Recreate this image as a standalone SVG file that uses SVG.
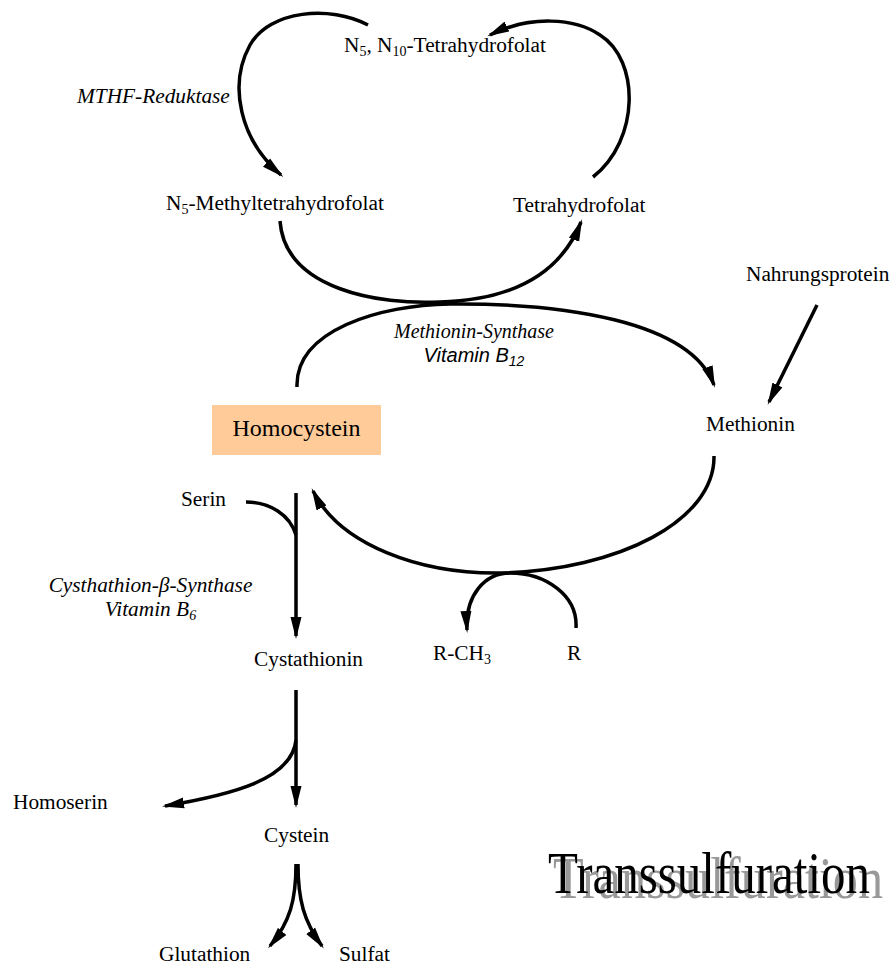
<svg xmlns="http://www.w3.org/2000/svg" width="892" height="965" viewBox="0 0 892 965">
<style>
  .lbl { font-family: "Liberation Serif", "Times New Roman", serif; font-size: 21.33px; fill: #000; }
  .it { font-style: italic; }
  .sans { font-family: "Liberation Sans", Arial, sans-serif; font-style: italic; font-size: 20px; fill: #000; }
  .conn { fill: none; stroke: #000; stroke-width: 3.5; }
  .big { font-family: "Liberation Serif", "Times New Roman", serif; font-size: 60px; }
  .sub { font-size: 14px; }
</style>
<defs>
  <marker id="ah" markerUnits="userSpaceOnUse" markerWidth="23" markerHeight="12" refX="19" refY="6" orient="auto" viewBox="0 0 23 12">
    <path d="M0,0.5 L22,6 L0,11.5 Z" fill="#000"/>
  </marker>
</defs>
<rect width="892" height="965" fill="#fff"/>

<g id="connectors">
  <path class="conn" d="M368,25 C330,5 270,10 250,45 C228,85 240,140 281,175" marker-end="url(#ah)"/>
  <path class="conn" d="M593,177 C640,140 640,60 600,35 C575,18 530,15 490,35" marker-end="url(#ah)"/>
  <path class="conn" d="M280,221 C285,290 380,305 440,302 C510,300 560,275 581,222" marker-end="url(#ah)"/>
  <path class="conn" d="M297,387 C295,330 380,305 450,304 C560,303 690,320 714,385" marker-end="url(#ah)"/>
  <path class="conn" d="M714,456 C715,520 620,570 500,573 C420,574 340,545 313,491" marker-end="url(#ah)"/>
  <path class="conn" d="M576,628 C578,595 545,573 510,573 C485,573 465,595 467,630" marker-end="url(#ah)"/>
  <path class="conn" d="M817,305 L769,402" marker-end="url(#ah)"/>
  <path class="conn" d="M296,493 L296,636" marker-end="url(#ah)"/>
  <path class="conn" d="M246,502 C270,502 290,515 296,535"/>
  <path class="conn" d="M296,690 L296,805" marker-end="url(#ah)"/>
  <path class="conn" d="M296,740 C292,780 230,795 165,806" marker-end="url(#ah)"/>
  <path class="conn" d="M296,864 C296,900 290,922 270,946" marker-end="url(#ah)"/>
  <path class="conn" d="M298,864 C298,900 304,922 322,946" marker-end="url(#ah)"/>
</g>

<g id="n-n5n10"><text class="lbl" x="344" y="52">N<tspan class="sub" dy="4">5</tspan><tspan dy="-4">, N</tspan><tspan class="sub" dy="4">10</tspan><tspan dy="-4">-Tetrahydrofolat</tspan></text></g>
<g id="n-mthfr"><text class="lbl it" x="77" y="103">MTHF-Reduktase</text></g>
<g id="n-n5methyl"><text class="lbl" x="166" y="210">N<tspan class="sub" dy="4">5</tspan><tspan dy="-4">-Methyltetrahydrofolat</tspan></text></g>
<g id="n-thf"><text class="lbl" x="513" y="212">Tetrahydrofolat</text></g>
<g id="n-nahrung"><text class="lbl" x="746" y="281">Nahrungsprotein</text></g>
<g id="n-ms"><text class="lbl it" x="474" y="338" text-anchor="middle" style="font-size:20px">Methionin-Synthase</text><text class="sans" x="474" y="362" text-anchor="middle">Vitamin B<tspan class="sub" dy="4">12</tspan></text></g>
<g id="n-homocystein"><rect x="212" y="405" width="169" height="50" fill="#FFCC99"/><text class="lbl" x="296.5" y="436" text-anchor="middle" style="font-size:24px">Homocystein</text></g>
<g id="n-methionin"><text class="lbl" x="706" y="431">Methionin</text></g>
<g id="n-serin"><text class="lbl" x="181" y="506">Serin</text></g>
<g id="n-cbs"><text class="lbl it" x="150.5" y="592" text-anchor="middle">Cysthathion-β-Synthase</text><text class="lbl it" x="150.5" y="616" text-anchor="middle">Vitamin B<tspan class="sub" dy="4">6</tspan></text></g>
<g id="n-cystathionin"><text class="lbl" x="254" y="666">Cystathionin</text></g>
<g id="n-rch3"><text class="lbl" x="433" y="660">R-CH<tspan class="sub" dy="4">3</tspan></text></g>
<g id="n-r"><text class="lbl" x="567" y="660">R</text></g>
<g id="n-homoserin"><text class="lbl" x="13" y="809">Homoserin</text></g>
<g id="n-cystein"><text class="lbl" x="264" y="842">Cystein</text></g>
<g id="n-glutathion"><text class="lbl" x="159" y="961">Glutathion</text></g>
<g id="n-sulfat"><text class="lbl" x="339" y="961">Sulfat</text></g>
<g id="title">
  <text class="big" x="553" y="898" fill="#999" textLength="330" lengthAdjust="spacingAndGlyphs">Transsulfuration</text>
  <text class="big" x="548" y="893" fill="#000" textLength="322" lengthAdjust="spacingAndGlyphs">Transsulfuration</text>
</g>
</svg>
